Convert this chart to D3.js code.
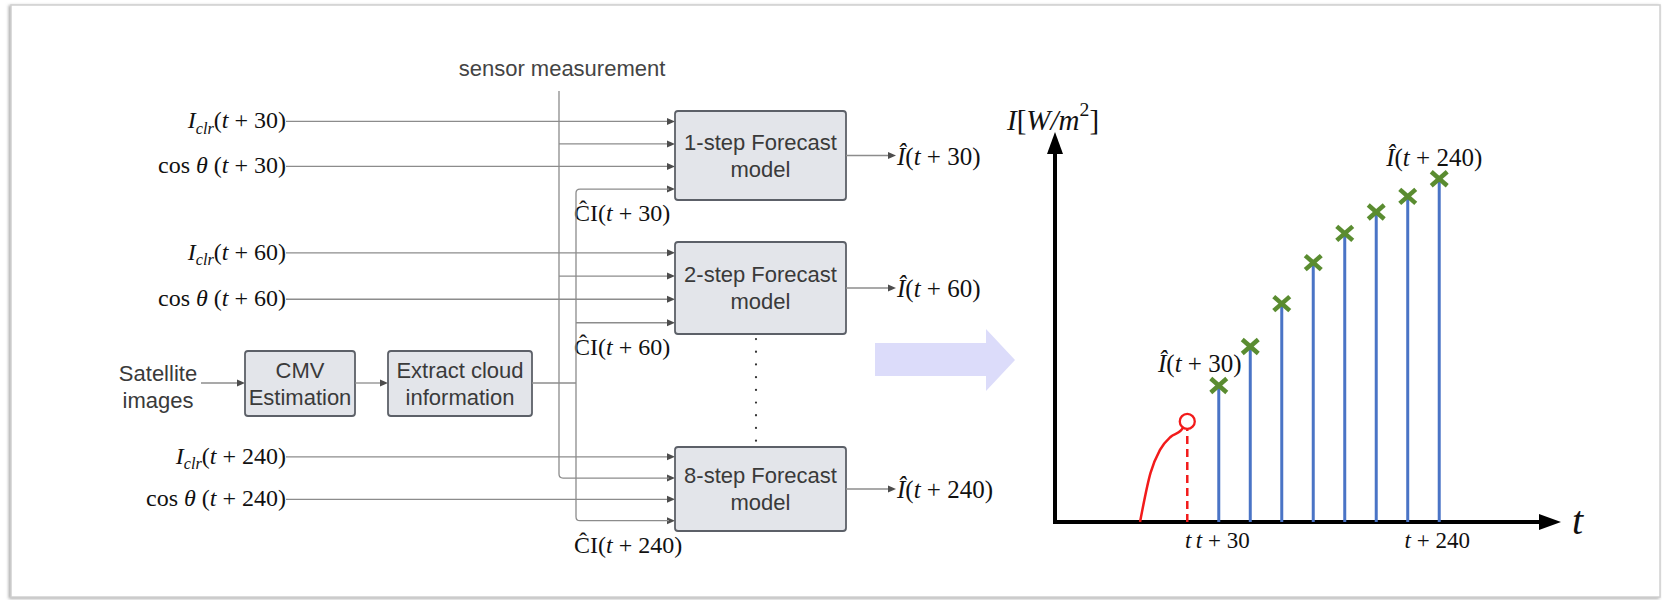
<!DOCTYPE html>
<html>
<head>
<meta charset="utf-8">
<script src="https://cdn.jsdelivr.net/npm/d3@7"></script>
<style>
  body { margin: 0; background: #fff; }
  svg { display: block; }
  text { white-space: pre; }
</style>
</head>
<body>
<div id="chart"></div>
<script>
// left diagram: one block per forecast horizon (minutes ahead)
const horizons = [30, 60, 240];
const stepNames = ["1-step Forecast", "2-step Forecast", "8-step Forecast"];
// right panel: predicted irradiance for t+30 ... t+240
const forecastMinutes = [30, 60, 90, 120, 150, 180, 210, 240];
const forecastValues = [35, 45, 56, 66.5, 74, 79.5, 83.5, 88];
// measured irradiance up to t
const historyMinutes = [-45, -35, -26, -16, -6, 0];
const historyValues = [0, 12.6, 18.5, 21.8, 23.5, 25.8];
// x axis tick labels
const tickMinutes = [0, 30, 240];
const tickNames = ["t", "t + 30", "t + 240"];

const W = 1662, H = 600;
const serif = '"Liberation Serif", "Times New Roman", serif';
const sans = '"Liberation Sans", Arial, sans-serif';

const svg = d3.select('#chart').append('svg')
    .attr('width', W).attr('height', H)
    .attr('viewBox', `0 0 ${W} ${H}`);

const defs = svg.append('defs');
const shadow = defs.append('filter').attr('id', 'shadow')
    .attr('x', -0.05).attr('y', -0.05).attr('width', 1.1).attr('height', 1.1);
shadow.append('feDropShadow').attr('dx', -1.5).attr('dy', 1)
    .attr('stdDeviation', 1.8).attr('flood-color', '#888').attr('flood-opacity', 0.75);

// outer frame
svg.append('rect')
    .attr('x', 11).attr('y', 5).attr('width', 1649).attr('height', 592)
    .attr('fill', '#fff').attr('stroke', '#d0d0d0').attr('stroke-width', 1.5)
    .attr('filter', 'url(#shadow)');

// writes a formula as tspans: i = italic, r = roman, sub/sup = small italic / roman
function math(g, x, y, parts, size, anchor) {
    const t = g.append('text')
        .attr('x', x).attr('y', y)
        .attr('font-family', serif).attr('font-size', size)
        .attr('text-anchor', anchor || 'start')
        .attr('dominant-baseline', 'central')
        .attr('fill', '#111');
    let shift = 0;
    parts.forEach(p => {
        const s = t.append('tspan').text(p[0]);
        let target = 0;
        if (p[1] === 'sub') { s.attr('font-size', size * 0.68).attr('font-style', 'italic'); target = size * 0.3; }
        else if (p[1] === 'sup') { s.attr('font-size', size * 0.68); target = -size * 0.38; }
        else if (p[1] === 'i') s.attr('font-style', 'italic');
        if (target !== shift) { s.attr('dy', target - shift); shift = target; }
    });
    return t;
}

const lineColor = '#8c8c8c';
const headColor = '#4d4d4d';
const diag = svg.append('g');

function arrowHead(g, x, y) {
    g.append('path')
        .attr('d', `M${x},${y} L${x - 8},${y - 3.5} L${x - 8},${y + 3.5} Z`)
        .attr('fill', headColor);
}

function hLine(g, x1, x2, y) {
    g.append('line').attr('x1', x1).attr('x2', x2).attr('y1', y).attr('y2', y)
        .attr('stroke', lineColor).attr('stroke-width', 1.3);
}

function box(g, x, y, w, h, lines, cy) {
    g.append('rect').attr('x', x).attr('y', y).attr('width', w).attr('height', h)
        .attr('rx', 3).attr('fill', '#e3e5ea').attr('stroke', '#5c6068').attr('stroke-width', 1.8);
    const mid = cy !== undefined ? cy : y + h / 2;
    lines.forEach((l, i) => {
        g.append('text')
            .attr('x', x + w / 2).attr('y', mid + (i - (lines.length - 1) / 2) * 27)
            .attr('text-anchor', 'middle').attr('dominant-baseline', 'central')
            .attr('font-family', sans).attr('font-size', 22).attr('fill', '#3a3a3a')
            .text(l);
    });
}

// forecast blocks
const boxX = 675, boxW = 171;
const boxCY = [155.5, 288, 489];
const boxH = [89, 92, 84];
const labelRight = 286;
const sensorX = 559, ciX = 576;

horizons.forEach((h, k) => {
    const cy = boxCY[k], hh = boxH[k];
    const rows = [-0.765, -0.26, 0.245, 0.755].map(f => cy + f * hh / 2);

    hLine(diag, labelRight, boxX - 6, rows[0]);
    hLine(diag, labelRight, boxX - 6, rows[2]);
    if (k < 2) hLine(diag, sensorX, boxX - 6, rows[1]);
    if (k === 1) hLine(diag, ciX, boxX - 6, rows[3]);
    rows.forEach(r => arrowHead(diag, boxX, r));

    math(diag, labelRight, rows[0] - 1,
        [["I", "i"], ["clr", "sub"], ["(", "r"], ["t", "i"], [` + ${h})`, "r"]], 24, 'end');
    math(diag, labelRight, rows[2] - 1,
        [["cos ", "r"], ["θ", "i"], [" (", "r"], ["t", "i"], [` + ${h})`, "r"]], 24, 'end');
    math(diag, ciX - 2, rows[3] + 24,
        [["ĈI(", "r"], ["t", "i"], [` + ${h})`, "r"]], 24, 'start');

    box(diag, boxX, cy - hh / 2, boxW, hh, [stepNames[k], "model"]);

    // output
    hLine(diag, boxX + boxW, boxX + boxW + 44, cy);
    arrowHead(diag, boxX + boxW + 50, cy);
    math(diag, boxX + boxW + 51, cy, [["Î", "i"], ["(", "r"], ["t", "i"], [` + ${h})`, "r"]], 25, 'start');

    if (k === 2) {
        // sensor line ends on block 8, CI line ends on its last input
        diag.append('path')
            .attr('d', `M${sensorX},91 V${rows[1] - 4} Q${sensorX},${rows[1]} ${sensorX + 4},${rows[1]} H${boxX - 6}`)
            .attr('fill', 'none').attr('stroke', lineColor).attr('stroke-width', 1.3);
        const top = boxCY[0] + 0.755 * boxH[0] / 2;
        diag.append('path')
            .attr('d', `M${boxX - 6},${top} H${ciX + 4} Q${ciX},${top} ${ciX},${top + 4} V${rows[3] - 4} Q${ciX},${rows[3]} ${ciX + 4},${rows[3]} H${boxX - 6}`)
            .attr('fill', 'none').attr('stroke', lineColor).attr('stroke-width', 1.3);
    }
});

diag.append('text')
    .attr('x', 562).attr('y', 68).attr('text-anchor', 'middle').attr('dominant-baseline', 'central')
    .attr('font-family', sans).attr('font-size', 22).attr('fill', '#444')
    .text('sensor measurement');

// dotted gap between block 2 and block 8
diag.append('line')
    .attr('x1', 756).attr('x2', 756).attr('y1', 339).attr('y2', 442)
    .attr('stroke', '#333').attr('stroke-width', 2.2)
    .attr('stroke-linecap', 'round').attr('stroke-dasharray', '0.1,12.6');

// satellite chain
['Satellite', 'images'].forEach((s, i) => {
    diag.append('text')
        .attr('x', 158).attr('y', 373 + i * 27).attr('text-anchor', 'middle').attr('dominant-baseline', 'central')
        .attr('font-family', sans).attr('font-size', 22).attr('fill', '#3a3a3a').text(s);
});
hLine(diag, 201, 239, 383);
arrowHead(diag, 245, 383);
box(diag, 245, 351, 110, 65, ['CMV', 'Estimation']);
hLine(diag, 355, 382, 383);
arrowHead(diag, 388, 383);
box(diag, 388, 351, 144, 65, ['Extract cloud', 'information']);
hLine(diag, 532, ciX, 383);

// big transition arrow
svg.append('path')
    .attr('d', 'M875,343 H986 V329 L1015,360 L986,391 V376 H875 Z')
    .attr('fill', '#dcdcfa');

// right panel
const x = d3.scaleLinear().domain([-126, 356]).range([1055, 1561]);
const y = d3.scaleLinear().domain([0, 100]).range([522, 132]);
const plot = svg.append('g');

// axes with arrowheads
plot.append('line')
    .attr('x1', x.range()[0]).attr('x2', x.range()[0])
    .attr('y1', y(0) + 2).attr('y2', y.range()[1] + 18)
    .attr('stroke', '#000').attr('stroke-width', 4);
plot.append('path')
    .attr('d', `M${x.range()[0]},${y.range()[1]} L${x.range()[0] - 8},${y.range()[1] + 22} L${x.range()[0] + 8},${y.range()[1] + 22} Z`)
    .attr('fill', '#000');
plot.append('line')
    .attr('x1', x.range()[0] - 2).attr('x2', x.range()[1] - 18)
    .attr('y1', y(0)).attr('y2', y(0))
    .attr('stroke', '#000').attr('stroke-width', 4);
plot.append('path')
    .attr('d', `M${x.range()[1]},${y(0)} L${x.range()[1] - 22},${y(0) - 8} L${x.range()[1] - 22},${y(0) + 8} Z`)
    .attr('fill', '#000');

math(plot, 1007, 120, [["I", "i"], ["[", "r"], ["W", "i"], ["/", "i"], ["m", "i"], ["2", "sup"], ["]", "r"]], 29, 'start');
math(plot, 1572, 520, [["t", "i"]], 40, 'start');

// measured history (red)
plot.append('path')
    .datum(historyMinutes.map((m, i) => [m, historyValues[i]]))
    .attr('d', d3.line().x(d => x(d[0])).y(d => y(d[1])).curve(d3.curveMonotoneX))
    .attr('fill', 'none').attr('stroke', '#f21b1b').attr('stroke-width', 2.5);
const last = historyValues[historyValues.length - 1];
plot.append('line')
    .attr('x1', x(0)).attr('x2', x(0)).attr('y1', y(0)).attr('y2', y(last) + 8)
    .attr('stroke', '#f21b1b').attr('stroke-width', 2.5).attr('stroke-dasharray', '8,5');
plot.append('circle')
    .attr('cx', x(0)).attr('cy', y(last)).attr('r', 7.5)
    .attr('fill', '#fff').attr('stroke', '#f21b1b').attr('stroke-width', 2.3);

// forecast stems and crosses
plot.selectAll('line.stem').data(forecastMinutes).join('line')
    .attr('class', 'stem')
    .attr('x1', d => x(d)).attr('x2', d => x(d))
    .attr('y1', y(0)).attr('y2', (d, i) => y(forecastValues[i]))
    .attr('stroke', '#4a74c6').attr('stroke-width', 3);
const cross = plot.selectAll('g.cross').data(forecastMinutes).join('g')
    .attr('class', 'cross')
    .attr('transform', (d, i) => `translate(${x(d)},${y(forecastValues[i])})`);
[[-8, -7, 8, 7], [-8, 7, 8, -7]].forEach(c => {
    cross.append('line').attr('x1', c[0]).attr('y1', c[1]).attr('x2', c[2]).attr('y2', c[3])
        .attr('stroke', '#5a8c30').attr('stroke-width', 4.5);
});

// tick labels
tickNames.forEach((n, i) => {
    const parts = n === 't' ? [["t", "i"]] : [["t", "i"], [n.slice(1), "r"]];
    const dx = i === 0 ? 1 : (i === 1 ? 4 : -2);
    math(plot, x(tickMinutes[i]) + dx, 540, parts, 23, 'middle');
});

// point labels
const n0 = forecastMinutes[0], nL = forecastMinutes[forecastMinutes.length - 1];
math(plot, x(n0) - 19, y(forecastValues[0]) - 23,
    [["Î", "i"], ["(", "r"], ["t", "i"], [` + ${n0})`, "r"]], 25, 'middle');
math(plot, x(nL) - 5, y(forecastValues[forecastValues.length - 1]) - 22,
    [["Î", "i"], ["(", "r"], ["t", "i"], [` + ${nL})`, "r"]], 25, 'middle');
</script>
</body>
</html>
